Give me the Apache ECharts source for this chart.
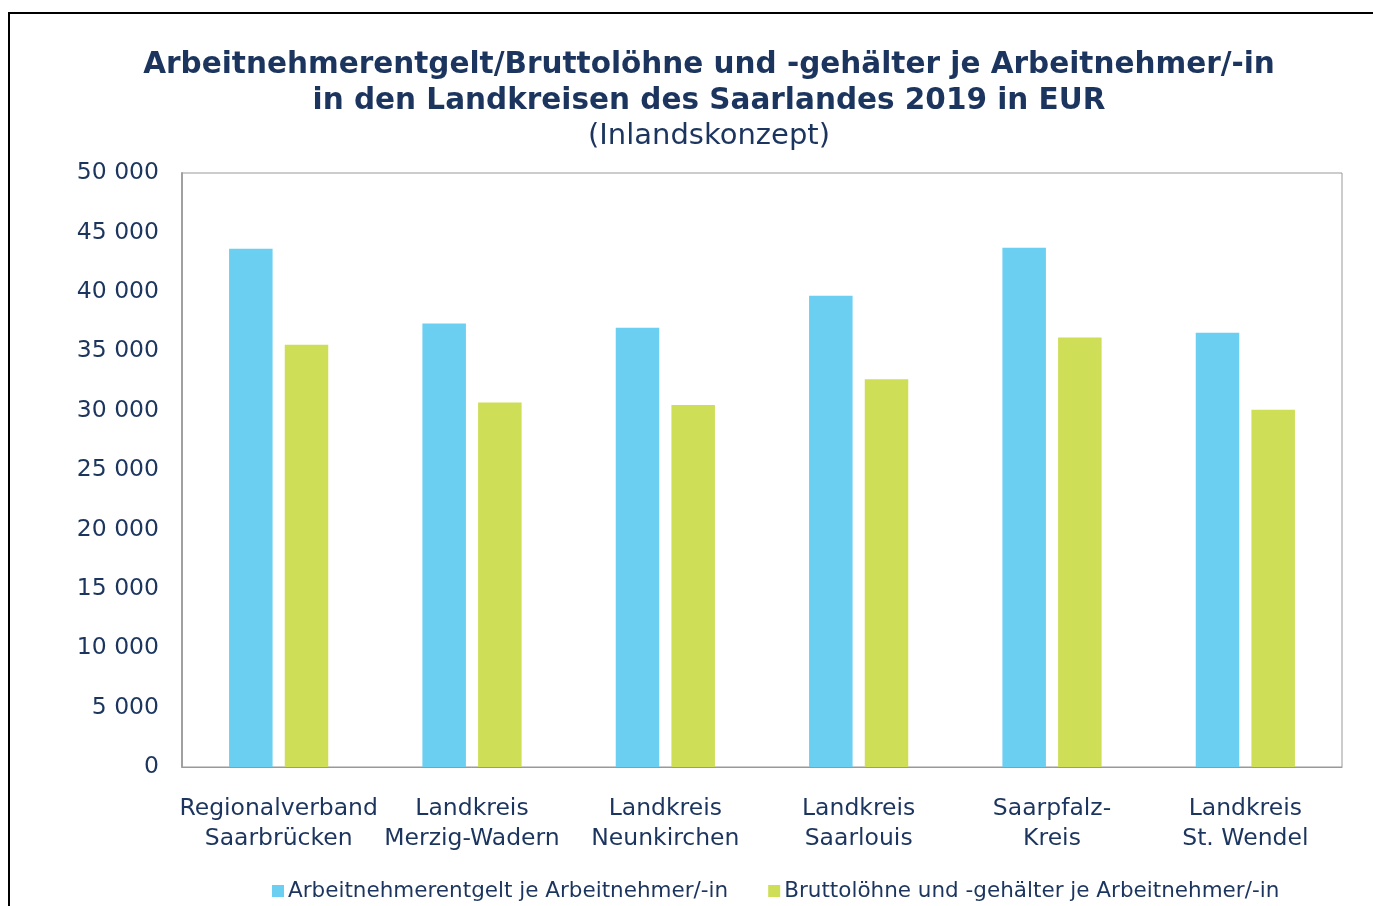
<!DOCTYPE html>
<html>
<head>
<meta charset="utf-8">
<script src="https://cdn.jsdelivr.net/npm/echarts@6/dist/echarts.min.js"></script>
<style>
html,body{margin:0;padding:0;background:#fff;}
#chart{width:1373px;height:906px;}
</style>
</head>
<body>
<div id="chart"></div>
<script>
const categories = ['Regionalverband\nSaarbrücken','Landkreis\nMerzig-Wadern','Landkreis\nNeunkirchen','Landkreis\nSaarlouis','Saarpfalz-\nKreis','Landkreis\nSt. Wendel'];
const seriesNames = ['Arbeitnehmerentgelt je Arbeitnehmer/-in','Bruttolöhne und -gehälter je Arbeitnehmer/-in'];
const entgelt = [43630, 37340, 36980, 39670, 43710, 36560];
const brutto = [35550, 30690, 30470, 32630, 36160, 30080];
const yTicks = [0, 5000, 10000, 15000, 20000, 25000, 30000, 35000, 40000, 45000, 50000];

const navy = '#1c355e';
const font = 'DejaVu Sans';
const chart = echarts.init(document.getElementById('chart'));
chart.setOption({
  animation: false,
  backgroundColor: '#fff',
  title: [{
    text: 'Arbeitnehmerentgelt/Bruttolöhne und -gehälter je Arbeitnehmer/-in\nin den Landkreisen des Saarlandes 2019 in EUR',
    left: 704, top: 42, textAlign: 'center',
    textStyle: {fontFamily: font, fontWeight: 'bold', fontSize: 29.5, color: navy, lineHeight: 36}
  }, {
    text: '(Inlandskonzept)',
    left: 704, top: 117, textAlign: 'center',
    textStyle: {fontFamily: font, fontWeight: 'normal', fontSize: 29, color: navy}
  }],
  graphic: [{
    type: 'rect', shape: {x: 9, y: 13, width: 1500, height: 1000},
    style: {fill: 'none', stroke: '#000', lineWidth: 2}, silent: true
  }],
  legend: {
    top: 875, left: 267,
    itemWidth: 12, itemHeight: 12, itemGap: 40,
    icon: 'rect',
    textStyle: {fontFamily: font, fontSize: 21.5, color: navy, padding: [0,0,0,-1]},
    data: seriesNames
  },
  grid: {left: 182, right: 31, top: 173, bottom: 139, show: true, borderColor: '#999', borderWidth: 1},
  xAxis: {
    type: 'category', data: categories,
    axisLine: {show: true, lineStyle: {color: '#999', width: 1}},
    axisTick: {show: false},
    axisLabel: {fontFamily: font, fontSize: 23.5, color: navy, lineHeight: 30, margin: 27, interval: 0}
  },
  yAxis: {
    type: 'value', min: 0, max: 50000, interval: 5000,
    axisLine: {show: true, lineStyle: {color: '#a0a0a0', width: 2}},
    axisTick: {show: false},
    splitLine: {show: false},
    axisLabel: {fontFamily: font, fontSize: 23.5, color: navy, margin: 23,
      formatter: v => yTicks.includes(v) ? String(v).replace(/\B(?=(\d{3})+(?!\d))/g, ' ') : ''}
  },
  series: [{
    name: seriesNames[0], type: 'bar', data: entgelt,
    barWidth: '22.5%', barGap: '28%',
    itemStyle: {color: '#6acff1'}
  }, {
    name: seriesNames[1], type: 'bar', data: brutto,
    barWidth: '22.5%',
    itemStyle: {color: '#cede56'}
  }]
});
</script>
</body>
</html>
